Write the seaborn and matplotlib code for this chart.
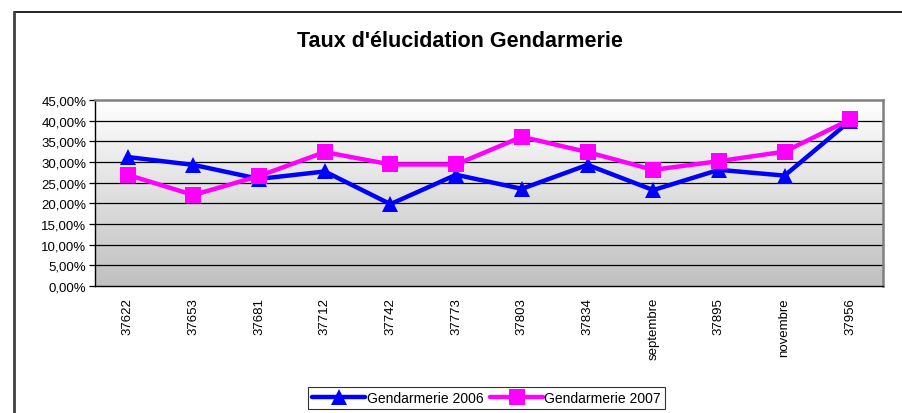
import numpy as np
import pandas as pd
import matplotlib
matplotlib.use("Agg")
import matplotlib.pyplot as plt
import seaborn as sns
from matplotlib.ticker import FuncFormatter, FixedLocator

# data
months = ["37622", "37653", "37681", "37712", "37742", "37773",
          "37803", "37834", "septembre", "37895", "novembre", "37956"]
gend_2006 = [31.2, 29.3, 25.9, 27.7, 19.8, 26.9, 23.5, 29.3, 23.2, 28.1, 26.7, 40.0]
gend_2007 = [26.9, 22.0, 26.6, 32.4, 29.4, 29.4, 36.1, 32.4, 28.1, 30.2, 32.5, 40.3]
series_names = ["Gendarmerie 2006", "Gendarmerie 2007"]

df = pd.DataFrame({
    "mois": months * 2,
    "taux": gend_2006 + gend_2007,
    "serie": [series_names[0]] * len(months) + [series_names[1]] * len(months),
})

sns.set_theme(style="white")
plt.rcParams["font.family"] = ["Liberation Sans", "DejaVu Sans"]
plt.rcParams["text.color"] = "black"
plt.rcParams["xtick.color"] = "black"
plt.rcParams["ytick.color"] = "black"

fig = plt.figure(figsize=(9.03, 4.14), dpi=100)
ax = fig.add_axes([0.105, 0.307, 0.873, 0.449])

# gradient background (white top -> grey bottom)
grad = np.linspace(0, 1, 512).reshape(-1, 1)
cmap = matplotlib.colors.LinearSegmentedColormap.from_list("g", ["#ffffff", "#c0c0c0"], N=512)
ax.imshow(grad, extent=[-0.5, 11.5, 0, 45], aspect="auto", origin="upper",
          cmap=cmap, interpolation="bilinear", zorder=0)

sns.lineplot(data=df, x="mois", y="taux", hue="serie", style="serie",
             palette=["#0000ff", "#ff00ff"], markers=["^", "s"], dashes=False,
             linewidth=3.2, markersize=11, markeredgewidth=0, sort=False,
             ax=ax, zorder=3, legend=True)

ax.set_xlim(-0.5, 11.5)
ax.set_ylim(0, 45)
ax.set_yticks(np.arange(0, 46, 5))
ax.yaxis.set_major_formatter(FuncFormatter(lambda v, p: f"{v:.2f}".replace(".", ",") + "%"))
for v in np.arange(5, 45, 5):
    ax.axhline(v, color="black", linewidth=0.9, zorder=1)

ax.set_xticks(range(len(months)))
ax.set_xticklabels(months, rotation=90, fontsize=9.5)
ax.xaxis.set_minor_locator(FixedLocator(np.arange(-0.5, 12, 1)))
ax.tick_params(axis="x", which="major", length=0, pad=8)
ax.tick_params(axis="x", which="minor", length=4, width=0.9, color="black", direction="out")
ax.tick_params(axis="y", length=4, width=0.9, color="black", direction="out", labelsize=9.5, pad=2)
ax.tick_params(bottom=True, left=True)
ax.set_xlabel("")
ax.set_ylabel("")

for s in ax.spines.values():
    s.set_color("#808080")
    s.set_linewidth(1.8)
ax.spines["left"].set_color("black")
ax.spines["left"].set_linewidth(1)
ax.spines["bottom"].set_color("black")
ax.spines["bottom"].set_linewidth(1)

fig.text(0.509, 0.90, "Taux d'élucidation Gendarmerie", ha="center", va="center",
         fontsize=15.5, fontweight="bold", color="black")

# outer chart frame (top and left visible)
fig.add_artist(plt.Line2D([14 / 903, 1], [1 - 13 / 414] * 2, color="black", linewidth=1.2))
fig.add_artist(plt.Line2D([14.5 / 903] * 2, [0, 1 - 13 / 414], color="#404040", linewidth=2))

handles, labels = ax.get_legend_handles_labels()
ax.legend_.remove()
leg = fig.legend(handles, labels, loc="center", bbox_to_anchor=(0.539, 0.036), ncol=2,
                 frameon=True, fancybox=False, fontsize=10, handlelength=3.8,
                 handletextpad=0.1, columnspacing=0.5, borderpad=0.3,
                 edgecolor="black")
leg.get_frame().set_linewidth(0.8)

fig.savefig("out.png", dpi=100, facecolor="white")
